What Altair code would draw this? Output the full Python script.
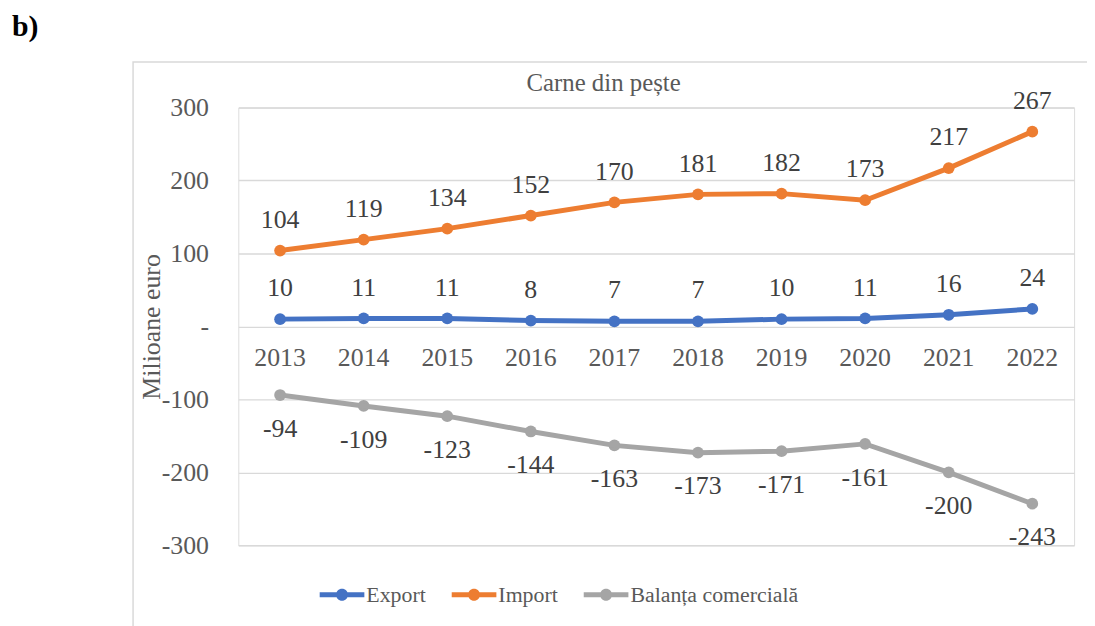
import altair as alt
import pandas as pd

years = ["2013", "2014", "2015", "2016", "2017", "2018", "2019", "2020", "2021", "2022"]
export_vals = [10, 11, 11, 8, 7, 7, 10, 11, 16, 24]
import_vals = [104, 119, 134, 152, 170, 181, 182, 173, 217, 267]
balance_vals = [-94, -109, -123, -144, -163, -173, -171, -161, -200, -243]

series_names = ["Export", "Import", "Balanța comercială"]
series_colors = ["#4472C4", "#ED7D31", "#A5A5A5"]

rows = []
for name, vals in zip(series_names, [export_vals, import_vals, balance_vals]):
    for y, v in zip(years, vals):
        rows.append({"year": y, "series": name, "value": v, "label": str(v)})
df = pd.DataFrame(rows)
years_df = pd.DataFrame({"year": years})
one = pd.DataFrame({"a": [0]})

FONT = "Liberation Serif"
W, H = 842, 441

x_enc = alt.X("year:O", scale=alt.Scale(type="point", padding=0.5), axis=None)
y_scale = alt.Scale(domain=[-300, 300], nice=False, zero=False)
y_enc = alt.Y(
    "value:Q",
    scale=y_scale,
    axis=alt.Axis(
        values=[-300, -200, -100, 0, 100, 200, 300],
        labelExpr="datum.value == 0 ? '-' : '' + datum.value",
        grid=True,
        gridColor="#D9D9D9",
        gridWidth=1.4,
        domain=False,
        ticks=False,
        labelPadding=30,
        labelFont=FONT,
        labelFontSize=26,
        labelColor="#595959",
        title="Milioane euro",
        titleFont=FONT,
        titleFontSize=26,
        titleFontWeight="normal",
        titleColor="#595959",
        titleAngle=-90,
        titleX=-87,
        titleY=H / 2,
        titleAlign="center",
        titleBaseline="middle",
    ),
)
color_scale = alt.Scale(domain=series_names, range=series_colors)

sym_path = (
    "M-1,-0.11L1,-0.11L1,0.11L-1,0.11Z "
    "M0,-0.27A0.27,0.27,0,1,1,0,0.27A0.27,0.27,0,1,1,0,-0.27Z"
)
legend = alt.Legend(
    title=None,
    orient="none",
    legendX=82,
    legendY=468,
    direction="horizontal",
    columns=3,
    symbolType=sym_path,
    symbolSize=2025,
    symbolStrokeWidth=0,
    symbolOpacity=1,
    labelFont=FONT,
    labelFontSize=22,
    labelColor="#595959",
    labelOffset=2,
    columnPadding=26,
    labelLimit=400,
)
color_enc = alt.Color("series:N", scale=color_scale, sort=series_names, legend=legend)

border = alt.Chart(one).mark_rect(
    fill="white", fillOpacity=0, stroke="#D9D9D9", strokeWidth=1.5
).encode(
    x=alt.value(-106), x2=alt.value(1000), y=alt.value(-46), y2=alt.value(700)
)

points = alt.Chart(df).mark_point(filled=True, size=140, opacity=1).encode(
    x=x_enc,
    y=alt.Y("value:Q", scale=y_scale),
    color=color_enc,
)

lines = alt.Chart(df).mark_line(strokeWidth=5).encode(
    x=x_enc,
    y=y_enc,
    color=color_enc,
    detail="series:N",
)

def labels(name, dy):
    return alt.Chart(df).transform_filter(
        alt.datum.series == name
    ).mark_text(
        font=FONT, fontSize=26, color="#404040", dy=dy, baseline="middle"
    ).encode(
        x=x_enc,
        y=alt.Y("value:Q", scale=y_scale),
        text="label:N",
    )

lab_exp = labels("Export", -31)
lab_imp = labels("Import", -31)
lab_bal = labels("Balanța comercială", 34)

year_labels = alt.Chart(years_df).mark_text(
    font=FONT, fontSize=26, color="#595959", dy=32, baseline="middle"
).encode(
    x=x_enc,
    y=alt.datum(0, type="quantitative", scale=y_scale),
    text="year:N",
)

title_txt = alt.Chart(one).mark_text(
    font=FONT, fontSize=25, color="#595959", baseline="middle", align="center"
).encode(x=alt.value(368), y=alt.value(-25), text=alt.value("Carne din pește"))

panel_txt = alt.Chart(one).mark_text(
    font=FONT, fontSize=30, fontWeight="bold", color="#000000",
    baseline="middle", align="left",
).encode(x=alt.value(-228), y=alt.value(-81), text=alt.value("b)"))

chart = alt.layer(
    border, points, lines, lab_exp, lab_imp, lab_bal, year_labels, title_txt, panel_txt
).properties(
    width=W,
    height=H,
    autosize=alt.AutoSizeParams(type="none"),
    padding={"left": 232, "top": 98, "right": 13, "bottom": 79},
).configure_view(stroke=None).configure(background="white")

chart.save("out.html", embed_options={"renderer": "svg", "actions": False})
